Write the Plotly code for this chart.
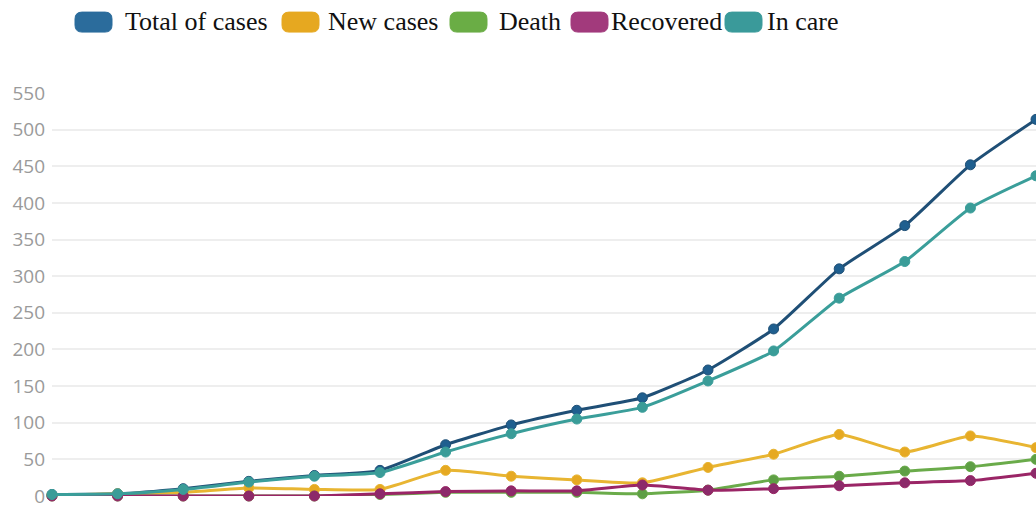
import plotly.graph_objects as go

# Daily report index (16 reporting days)
days = list(range(16))

total_cases = [2, 3, 10, 20, 28, 35, 70, 97, 117, 134, 172, 228, 310, 369, 452, 514]
new_cases = [1, 3, 5, 11, 9, 9, 35, 27, 22, 18, 39, 57, 84, 60, 82, 66]
death = [0, 0, 0, 0, 0, 2, 5, 5, 5, 3, 8, 22, 27, 34, 40, 50]
recovered = [0, 0, 0, 0, 0, 3, 6, 7, 7, 15, 8, 10, 14, 18, 21, 31]
in_care = [2, 3, 9, 19, 27, 32, 60, 85, 105, 121, 157, 198, 270, 320, 393, 437]

y_ticks = [0, 50, 100, 150, 200, 250, 300, 350, 400, 450, 500, 550]

series = [
    ("Total of cases", total_cases, "#1f4f76", "#1f5f8f", "#2b6c9c"),
    ("New cases", new_cases, "#e8b532", "#e6a922", "#e6a820"),
    ("Death", death, "#6aab4a", "#5e9f45", "#6aad45"),
    ("Recovered", recovered, "#9a2566", "#8c2a6a", "#a23a7c"),
    ("In care", in_care, "#3a9e9a", "#3a9c98", "#3a9a9a"),
]

W, H = 1036, 510
L, R, T, B = 52, 0, 93, 13.5
pw, ph = W - L - R, H - T - B


def px(x):
    return (x - L) / pw


def py(y):
    return (H - B - y) / ph


fig = go.Figure()
for name, vals, lc, mc, _ in series:
    fig.add_trace(go.Scatter(
        x=days, y=vals, name=name, mode="lines+markers",
        line=dict(color=lc, width=3, shape="spline", smoothing=0.5),
        marker=dict(color=mc, size=10, line=dict(color=lc, width=1)),
        cliponaxis=False, showlegend=False,
    ))

# Custom legend: rounded swatches followed by serif labels
legend_items = [(75, 123), (282, 326), (450, 497), (571, 609), (725, 765)]
shapes = []
annotations = []
for (sx, tx), (name, _, _, _, sc) in zip(legend_items, series):
    x0, x1, y0, y1, r = sx, sx + 37, 12, 32, 7
    path = (
        f"M {px(x0 + r)},{py(y0)} L {px(x1 - r)},{py(y0)} "
        f"Q {px(x1)},{py(y0)} {px(x1)},{py(y0 + r)} L {px(x1)},{py(y1 - r)} "
        f"Q {px(x1)},{py(y1)} {px(x1 - r)},{py(y1)} L {px(x0 + r)},{py(y1)} "
        f"Q {px(x0)},{py(y1)} {px(x0)},{py(y1 - r)} L {px(x0)},{py(y0 + r)} "
        f"Q {px(x0)},{py(y0)} {px(x0 + r)},{py(y0)} Z"
    )
    shapes.append(dict(type="path", path=path, xref="paper", yref="paper",
                       fillcolor=sc, line=dict(color=sc, width=1)))
    annotations.append(dict(text=name, x=px(tx), y=py(21), xref="paper", yref="paper",
                            xanchor="left", yanchor="middle", showarrow=False,
                            font=dict(family="Liberation Serif", size=26, color="#111111")))

fig.update_layout(
    width=W, height=H,
    margin=dict(l=L, r=R, t=T, b=B),
    paper_bgcolor="white", plot_bgcolor="white",
    shapes=shapes, annotations=annotations,
    xaxis=dict(range=[0, 15], showgrid=False, zeroline=False, showticklabels=False,
               showline=False, ticks=""),
    yaxis=dict(range=[0, 550], tickvals=y_ticks, showgrid=True, gridcolor="#eeeeee",
               gridwidth=2, zeroline=False, showline=False, ticks="",
               tickfont=dict(family="Open Sans", size=19, color="#9a9a9a"),
               ticklabelstandoff=6),
)

fig.write_html("out.html")
